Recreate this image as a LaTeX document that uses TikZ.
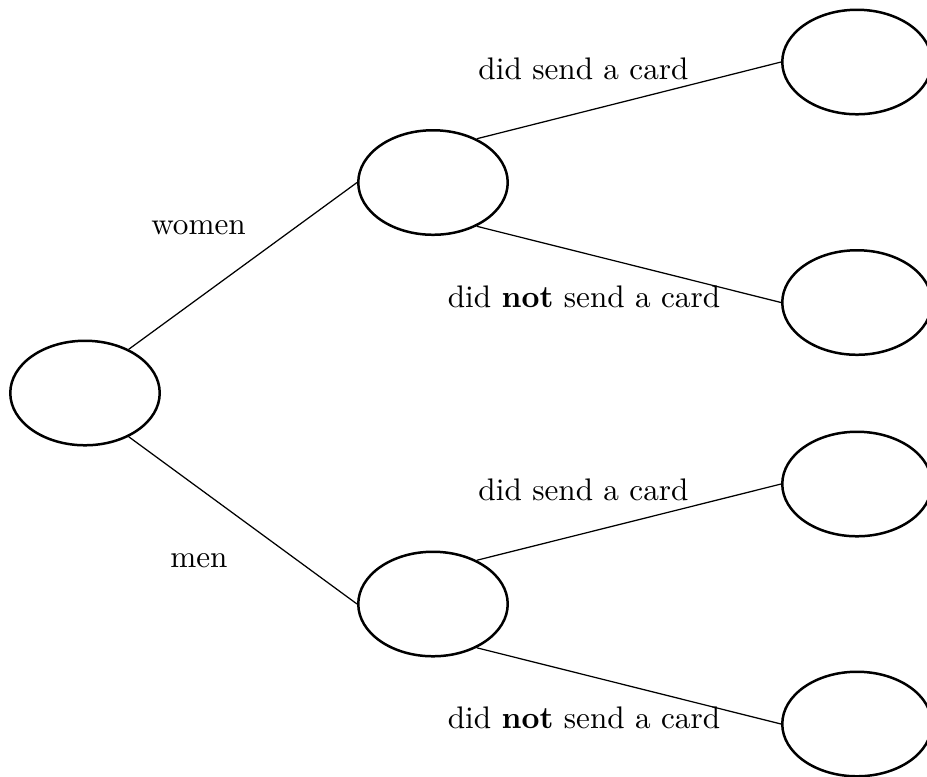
\documentclass[tikz,border=0pt]{standalone}
\usetikzlibrary{shapes.geometric}
\begin{document}
\begin{tikzpicture}[x=0.3205pt,y=-0.3205pt,
  oval/.style={ellipse,draw,thick,inner sep=0pt,minimum width=47.9pt,minimum height=33.5pt},
  lbl/.style={anchor=base,inner sep=0pt},
  conn/.style={draw}]
\useasboundingbox (0,0) rectangle (927,776);
\node[oval] (root) at (85,393) {};
\node[oval] (m1) at (433,182.5) {};
\node[oval] (m2) at (433,604) {};
\node[oval] (l1) at (857,62) {};
\node[oval] (l2) at (857,302.5) {};
\node[oval] (l3) at (857,484) {};
\node[oval] (l4) at (857,724) {};
\draw[conn] (root.45) -- (m1.west);
\draw[conn] (root.-45) -- (m2.west);
\draw[conn] (m1.45) -- (l1.west);
\draw[conn] (m1.-45) -- (l2.west);
\draw[conn] (m2.45) -- (l3.west);
\draw[conn] (m2.-45) -- (l4.west);
\node[lbl] (t1) at (198.5,234) {women};
\node[lbl] (t2) at (199,567) {men};
\node[lbl] (t3) at (583.5,79) {did send a card};
\node[lbl] (t4) at (584,307) {did \textbf{not} send a card};
\node[lbl] (t5) at (583.5,500) {did send a card};
\node[lbl] (t6) at (584,728) {did \textbf{not} send a card};
\end{tikzpicture}
\end{document}
